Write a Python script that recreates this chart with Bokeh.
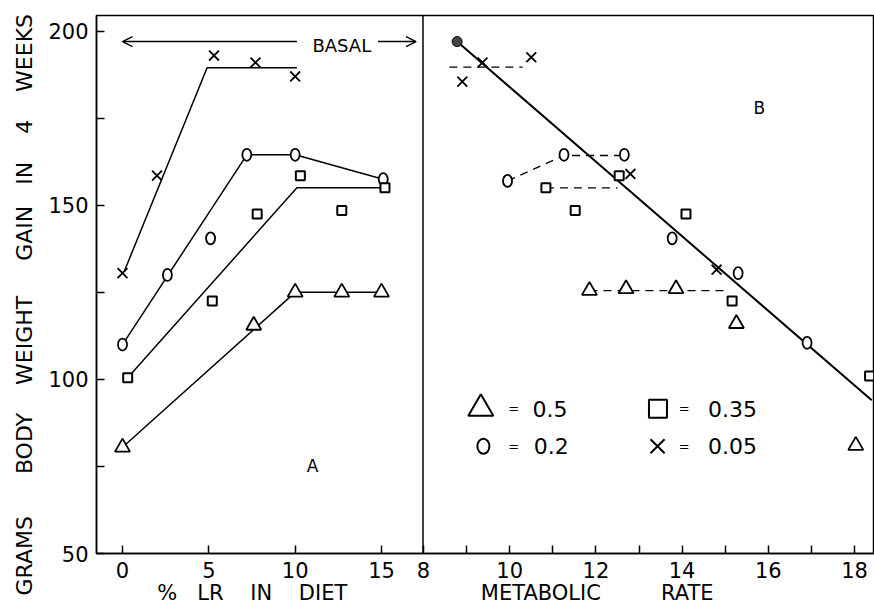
from bokeh.plotting import figure
from bokeh.models import (Range1d, FixedTicker, CustomJSTickFormatter, Span, Arrow,
                          OpenHead, ColumnDataSource, Title)
from bokeh.core.properties import value
from bokeh.embed import file_html
from bokeh.resources import INLINE

FONT = "DejaVu Sans"
NB = "\u00a0"

# ---------------- Panel A : body weight gain vs % LR in diet ----------------
lr_x05 = [0.0, 2.0, 5.3, 7.7, 10.0]
gain_x05_a = [130.5, 158.5, 193.0, 191.0, 187.0]
lr_o02 = [0.0, 2.6, 5.1, 7.2, 10.0, 15.1]
gain_o02_a = [110.0, 130.0, 140.5, 164.5, 164.5, 157.5]
lr_s035 = [0.3, 5.2, 7.8, 10.3, 12.7, 15.2]
gain_s035_a = [100.5, 122.5, 147.5, 158.5, 148.5, 155.0]
lr_t05 = [0.0, 7.6, 10.0, 12.7, 15.0]
gain_t05_a = [80.5, 115.5, 125.0, 125.0, 125.0]

# fitted broken-line curves (panel A)
fit_x05_lr = [0.1, 4.9, 10.1]
fit_x05_gain = [131.0, 189.5, 189.5]
fit_o02_lr = [0.0, 7.2, 10.0, 15.1]
fit_o02_gain = [110.0, 164.5, 164.5, 157.5]
fit_s035_lr = [0.3, 10.1, 15.2]
fit_s035_gain = [100.5, 155.0, 155.0]
fit_t05_lr = [0.0, 10.0, 15.0]
fit_t05_gain = [80.5, 125.0, 125.0]

# "BASAL" arrows (panel A)
basal_arrow_x0 = [10.1, 14.8]
basal_arrow_x1 = [0.0, 17.0]
basal_arrow_y = [197.0, 197.0]
basal_text_x = [11.0]
basal_text_y = [196.0]
panel_a_label = (11.0, 75.0)

# ---------------- Panel B : body weight gain vs metabolic rate ----------------
mr_x05 = [8.9, 9.37, 10.5, 12.8, 14.8]
gain_x05_b = [185.5, 191.0, 192.5, 159.0, 131.5]
mr_o02 = [9.95, 11.26, 12.66, 13.77, 15.3, 16.9]
gain_o02_b = [157.0, 164.5, 164.5, 140.5, 130.5, 110.5]
mr_s035 = [10.84, 11.52, 12.54, 14.09, 15.16, 18.35]
gain_s035_b = [155.0, 148.5, 158.5, 147.5, 122.5, 101.0]
mr_t05 = [11.85, 12.7, 13.86, 15.26, 18.03]
gain_t05_b = [125.5, 126.0, 126.0, 116.0, 81.0]
mr_basal = [8.78]
gain_basal = [197.0]

# regression line and dashed connectors (panel B)
reg_mr = [8.78, 18.4]
reg_gain = [197.0, 94.0]
dash_x05_mr = [8.6, 10.3]
dash_x05_gain = [189.7, 189.7]
dash_o02_mr = [9.95, 11.26, 12.66]
dash_o02_gain = [157.0, 164.3, 164.3]
dash_s035_mr = [10.84, 12.5]
dash_s035_gain = [155.0, 155.0]
dash_t05_mr = [11.85, 15.0]
dash_t05_gain = [125.5, 125.5]
panel_b_label = (15.79, 177.8)

# key (panel B)
key_values = ["0.5", "0.35", "0.2", "0.05"]
key_sym_mr = [9.33, 13.44, 9.39, 13.43]
key_eq_mr = [10.09, 14.05, 10.09, 14.05]
key_val_mr = [10.53, 14.60, 10.56, 14.60]
key_row_gain = [91.6, 91.6, 80.8, 80.8]

# axes
y_ticks = [50, 100, 150, 200]
y_minor = [75, 125, 175]
lr_ticks = [0, 5, 10, 15]
mr_ticks = [8, 10, 12, 14, 16, 18]
mr_minor = [9, 11, 13, 15, 17]
y_title_words = ["GRAMS", "BODY", "WEIGHT", "GAIN", "IN", "4", "WEEKS"]
y_title_gaps = [6, 4, 5, 3, 4, 4]

# shared frame: panel A scale on the main x range, panel B on an extra range
L0, L1 = -1.506, 43.551
R0, R1 = 0.413, 18.464
Y0, Y1 = 50.0, 204.5
MR_DIVIDER = 7.988


def mr_to_a(m):
    return L0 + (m - R0) * (L1 - L0) / (R1 - R0)


p = figure(width=874, height=610, output_backend="svg", toolbar_location=None,
           x_range=Range1d(L0, L1), y_range=Range1d(Y0, Y1),
           min_border_left=96, min_border_right=0, min_border_top=15,
           min_border_bottom=57, outline_line_color="black",
           outline_line_width=1.5, background_fill_color="white",
           border_fill_color="white")
p.extra_x_ranges = {"mr": Range1d(R0, R1)}
p.xgrid.visible = False
p.ygrid.visible = False

# ---- axes ----
xa = p.xaxis[0]
xa.ticker = FixedTicker(ticks=lr_ticks + [mr_to_a(m) for m in mr_ticks],
                        minor_ticks=[mr_to_a(m) for m in mr_minor])
xa.formatter = CustomJSTickFormatter(
    args=dict(l0=L0, l1=L1, r0=R0, r1=R1),
    code="""
    if (tick < 16) { return tick.toFixed(0); }
    const m = r0 + (tick - l0) * (r1 - r0) / (l1 - l0);
    return Math.round(m).toString();
    """)
xa.axis_label = ("%" + NB * 3 + "LR" + NB * 4 + "IN" + NB * 4 + "DIET" + NB * 20 +
                 "METABOLIC" + NB * 9 + "RATE" + NB * 15)
ya = p.yaxis[0]
ya.ticker = FixedTicker(ticks=y_ticks, minor_ticks=y_minor)
for ax in (xa, ya):
    ax.axis_line_color = "black"
    ax.axis_line_width = 1.5
    ax.major_tick_in = 8
    ax.major_tick_out = 0
    ax.minor_tick_in = 8
    ax.minor_tick_out = 0
    ax.major_tick_line_width = 1.5
    ax.minor_tick_line_width = 1.5
    ax.major_label_text_font = FONT
    ax.major_label_text_font_size = "21px"
    ax.major_label_text_color = "black"
    ax.major_label_standoff = 8
    ax.axis_label_text_font = FONT
    ax.axis_label_text_font_style = "normal"
    ax.axis_label_text_color = "black"
xa.axis_label_text_font_size = "21px"
xa.axis_label_standoff = 0

# y title as a side title (spaced words like the original lettering)
y_title = y_title_words[0]
for gap, word in zip(y_title_gaps, y_title_words[1:]):
    y_title += NB * gap + word
p.add_layout(Title(text=y_title, align="left", offset=-42, standoff=17,
                   text_font=FONT, text_font_size="22px", text_font_style="normal",
                   text_color="black"), "left")

# panel divider
p.add_layout(Span(location=MR_DIVIDER, dimension="height", x_range_name="mr",
                  line_color="black", line_width=1.5))

LW = 1.5
# ---- panel A ----
for fx, fy in ((fit_x05_lr, fit_x05_gain), (fit_o02_lr, fit_o02_gain),
               (fit_s035_lr, fit_s035_gain), (fit_t05_lr, fit_t05_gain)):
    p.line(fx, fy, line_color="black", line_width=LW)

p.scatter(lr_x05, gain_x05_a, marker="x", size=14, line_color="black", line_width=1.8)
p.ellipse(lr_o02, gain_o02_a, width=9, height=12, width_units="screen",
          height_units="screen", fill_color="white", line_color="black", line_width=1.8)
p.scatter(lr_s035, gain_s035_a, marker="square", size=9, fill_color="white",
          line_color="black", line_width=2)
p.scatter(lr_t05, gain_t05_a, marker="triangle", size=15, fill_color="white",
          line_color="black", line_width=1.8)

arrows = ColumnDataSource(dict(x0=basal_arrow_x0, x1=basal_arrow_x1,
                               y=basal_arrow_y))
p.add_layout(Arrow(x_start="x0", y_start="y", x_end="x1", y_end="y", source=arrows,
                   line_color="black", line_width=LW,
                   end=OpenHead(size=10, line_width=LW, line_color="black")))
p.text(basal_text_x, basal_text_y, text=["BASAL"], text_font=value(FONT),
       text_font_size="18px", text_align="left", text_baseline="middle",
       text_color="black")
p.text([panel_a_label[0]], [panel_a_label[1]], text=["A"], text_font=value(FONT),
       text_font_size="17px", text_align="center", text_baseline="middle",
       text_color="black")

# ---- panel B ----
p.line(reg_mr, reg_gain, x_range_name="mr", line_color="black", line_width=2)
for dx, dy in ((dash_x05_mr, dash_x05_gain), (dash_o02_mr, dash_o02_gain),
               (dash_s035_mr, dash_s035_gain), (dash_t05_mr, dash_t05_gain)):
    p.line(dx, dy, x_range_name="mr", line_color="black", line_width=1.3,
           line_dash="8 6")

p.scatter(mr_x05, gain_x05_b, x_range_name="mr", marker="x", size=14,
          line_color="black", line_width=1.8)
p.ellipse(mr_o02, gain_o02_b, x_range_name="mr", width=9, height=12,
          width_units="screen", height_units="screen", fill_color="white",
          line_color="black", line_width=1.8)
p.scatter(mr_s035, gain_s035_b, x_range_name="mr", marker="square", size=9,
          fill_color="white", line_color="black", line_width=2)
p.scatter(mr_t05, gain_t05_b, x_range_name="mr", marker="triangle", size=15,
          fill_color="white", line_color="black", line_width=1.8)
p.scatter(mr_basal, gain_basal, x_range_name="mr", marker="circle", size=10,
          fill_color="#444444", line_color="black", line_width=1)
p.text([panel_b_label[0]], [panel_b_label[1]], text=["B"], x_range_name="mr",
       text_font=value(FONT), text_font_size="17px", text_align="center",
       text_baseline="middle", text_color="black")

# key
p.scatter([key_sym_mr[0]], [key_row_gain[0]], x_range_name="mr", marker="triangle",
          size=25, fill_color="white", line_color="black", line_width=2)
p.scatter([key_sym_mr[1]], [key_row_gain[1]], x_range_name="mr", marker="square",
          size=18, fill_color="white", line_color="black", line_width=2)
p.ellipse([key_sym_mr[2]], [key_row_gain[2]], x_range_name="mr", width=12, height=15,
          width_units="screen", height_units="screen", fill_color="white",
          line_color="black", line_width=2)
p.scatter([key_sym_mr[3]], [key_row_gain[3]], x_range_name="mr", marker="x",
          size=20, line_color="black", line_width=2)
p.text(key_eq_mr, key_row_gain, text=["="] * 4, x_range_name="mr",
       text_font=value(FONT), text_font_size="13px", text_align="center",
       text_baseline="middle", text_color="black")
p.text(key_val_mr, key_row_gain, text=key_values, x_range_name="mr",
       text_font=value(FONT), text_font_size="22px", text_align="left",
       text_baseline="middle", text_color="black")

open("out.html", "w").write(file_html(p, INLINE))
